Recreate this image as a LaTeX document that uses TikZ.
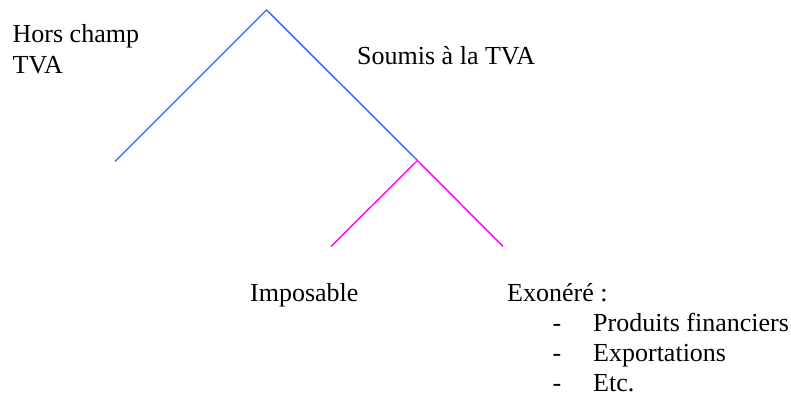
\documentclass[tikz,border=0pt]{standalone}
\usepackage{fontspec}
\setmainfont{Liberation Serif}
\usepackage{xcolor}
\definecolor{branchblue}{RGB}{51,102,255}
\definecolor{branchpink}{RGB}{255,0,255}
\begin{document}
\begin{tikzpicture}[x=1pt, y=-1pt,
    lbl/.style={anchor=base west, inner sep=0pt, font=\fontsize{26}{31}\selectfont},
    blueline/.style={draw=branchblue, line width=1.4pt},
    pinkline/.style={draw=branchpink, line width=1.4pt}]
    \useasboundingbox (0, 0) rectangle (791, 396);
    \coordinate (apex) at (266.5, 10);
    \coordinate (hors) at (115, 161.5);
    \coordinate (soumis) at (417.5, 160.5);
    \coordinate (impo) at (331, 246.5);
    \coordinate (exo) at (503, 246.5);
    \draw[blueline] (hors) -- (apex) -- (soumis);
    \draw[pinkline] (impo) -- (soumis) -- (exo);
    \node[lbl] (horsA) at (12.5, 42) {Hors champ};
    \node[lbl] (horsB) at (12.5, 74) {TVA};
    \node[lbl] (soumisT) at (357, 64) {Soumis à la TVA};
    \node[lbl] (impoT) at (250, 301) {Imposable};
    \node[lbl] (exoT) at (507, 301) {Exonéré :};
    \foreach \txt [count=\i] in {Produits financiers, Exportations, Etc.} {
        \node[lbl] (dash\i) at (552.5, 301 + 30*\i) {-};
        \node[lbl] (item\i) at (593, 301 + 30*\i) {\txt};
    }
\end{tikzpicture}
\end{document}
